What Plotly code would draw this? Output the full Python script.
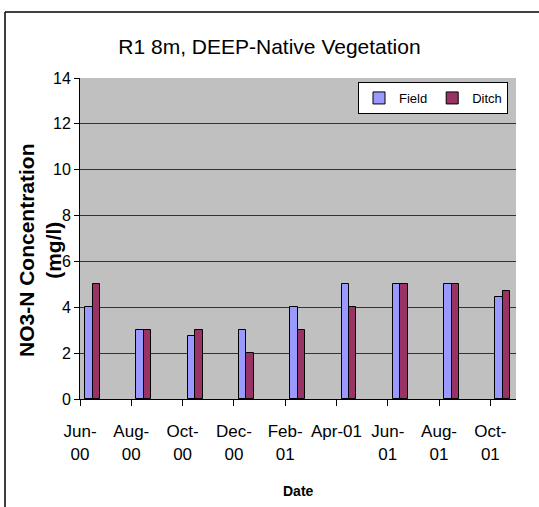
import plotly.graph_objects as go

dates = ["Jun-<br>00", "Aug-<br>00", "Oct-<br>00", "Dec-<br>00", "Feb-<br>01",
         "Apr-01<br> ", "Jun-<br>01", "Aug-<br>01", "Oct-<br>01"]
field = [4, 3, 2.75, 3, 4, 5, 5, 5, 4.45]
ditch = [5, 3, 3, 2, 3, 4, 5, 5, 4.7]

W, H = 539, 507
L, R, T, B = 80, 23, 78, 108
pw, ph = W - L - R, H - T - B

def px(x):
    return (x - L) / pw

def py(y):
    return (H - B - y) / ph

FONT = "Liberation Sans, Arial, sans-serif"

fig = go.Figure()
fig.add_trace(go.Bar(name="Field", x=dates, y=field, offset=0.1, width=0.145,
                     marker=dict(color="#9999FF", line=dict(color="black", width=1))))
fig.add_trace(go.Bar(name="Ditch", x=dates, y=ditch, offset=0.245, width=0.145,
                     marker=dict(color="#993366", line=dict(color="black", width=1))))

fig.update_layout(
    width=W, height=H,
    margin=dict(l=L, r=R, t=T, b=B),
    paper_bgcolor="white", plot_bgcolor="#C0C0C0",
    font=dict(family=FONT, color="black"),
    title=dict(text="R1 8m, DEEP-Native Vegetation", x=0.5, xanchor="center",
               y=1 - 47 / H, yanchor="middle", font=dict(size=21, family=FONT)),
    showlegend=True,
    legend=dict(orientation="h", x=px(508), xanchor="right", y=py(82), yanchor="top",
                bgcolor="white", bordercolor="black", borderwidth=1,
                font=dict(size=13), itemwidth=30, traceorder="normal"),
    bargap=0,
)
fig.update_xaxes(type="category", range=[0, 8.5], showline=True, linecolor="black",
                 linewidth=1, ticks="outside", ticklen=6, tickcolor="black",
                 tickfont=dict(size=17), showgrid=False, ticklabelstandoff=11)
fig.update_yaxes(range=[0, 14], dtick=2, showline=True, linecolor="black", linewidth=1,
                 ticks="outside", ticklen=5, tickcolor="black", tickfont=dict(size=16),
                 showgrid=True, gridcolor="#333333", gridwidth=1, zeroline=False)

fig.add_annotation(text="<b>NO3-N Concentration<br>(mg/l)</b>", textangle=-90,
                   xref="paper", yref="paper", x=px(40), y=py(250), xanchor="center",
                   yanchor="middle", showarrow=False, font=dict(size=21, family=FONT))
fig.add_annotation(text="<b>Date</b>", xref="paper", yref="paper", x=px(298), y=py(491),
                   xanchor="center", yanchor="middle", showarrow=False,
                   font=dict(size=14, family=FONT))

fig.add_shape(type="line", xref="paper", yref="paper", x0=px(5), x1=px(5), y0=py(12), y1=py(520),
              line=dict(color="black", width=1.5))
fig.add_shape(type="line", xref="paper", yref="paper", x0=px(5), x1=px(545), y0=py(12), y1=py(12),
              line=dict(color="black", width=1.5))

fig.write_html("out.html", config={"displayModeBar": False},
               post_script="document.body.style.margin='0';")
